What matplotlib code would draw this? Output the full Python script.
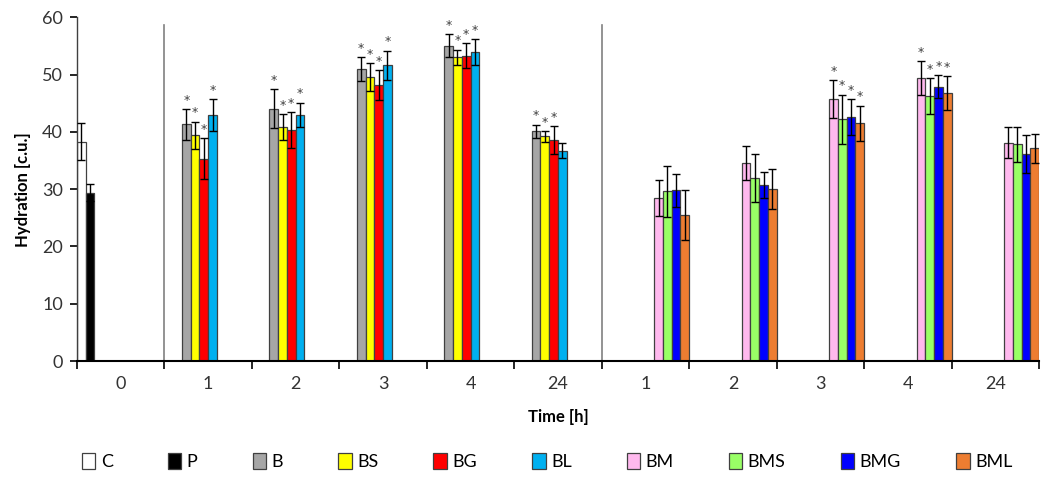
import numpy as np
import matplotlib
matplotlib.use("Agg")
import matplotlib.pyplot as plt
from matplotlib.patches import Patch

plt.rcParams["font.family"] = ["Lato", "DejaVu Sans"]

# categories on x axis
categories = ["0", "1", "2", "3", "4", "24", "1", "2", "3", "4", "24"]
series = ["C", "P", "B", "BS", "BG", "BL", "BM", "BMS", "BMG", "BML"]
colors = ["#FFFFFF", "#000000", "#A6A6A6", "#FFFF00", "#FF0000", "#00B0F0",
          "#FFB9EE", "#99FF66", "#0000FF", "#ED7D31"]

# mean values (None = no bar)
C = [38.3, None, None, None, None, None, None, None, None, None, None]
P = [29.4, None, None, None, None, None, None, None, None, None, None]
B = [None, 41.3, 44.0, 50.9, 55.0, 40.1, None, None, None, None, None]
BS = [None, 39.4, 40.8, 49.6, 53.0, 39.2, None, None, None, None, None]
BG = [None, 35.3, 40.3, 48.2, 53.3, 38.6, None, None, None, None, None]
BL = [None, 42.9, 43.0, 51.6, 53.9, 36.7, None, None, None, None, None]
BM = [None, None, None, None, None, None, 28.5, 34.6, 45.7, 49.4, 38.1]
BMS = [None, None, None, None, None, None, 29.6, 32.0, 42.2, 46.3, 37.8]
BMG = [None, None, None, None, None, None, 29.8, 30.7, 42.6, 47.9, 36.1]
BML = [None, None, None, None, None, None, 25.5, 30.1, 41.5, 46.8, 37.1]

# standard deviations
C_sd = [3.2, None, None, None, None, None, None, None, None, None, None]
P_sd = [1.5, None, None, None, None, None, None, None, None, None, None]
B_sd = [None, 2.7, 3.4, 2.1, 2.0, 1.15, None, None, None, None, None]
BS_sd = [None, 2.4, 2.3, 2.4, 1.35, 0.9, None, None, None, None, None]
BG_sd = [None, 3.6, 3.2, 2.6, 2.2, 2.4, None, None, None, None, None]
BL_sd = [None, 2.8, 2.1, 2.6, 2.3, 1.3, None, None, None, None, None]
BM_sd = [None, None, None, None, None, None, 3.1, 3.0, 3.3, 3.0, 2.7]
BMS_sd = [None, None, None, None, None, None, 4.5, 4.2, 4.3, 3.1, 3.0]
BMG_sd = [None, None, None, None, None, None, 2.9, 2.3, 3.1, 2.0, 3.3]
BML_sd = [None, None, None, None, None, None, 4.3, 3.5, 3.1, 2.9, 2.6]

# significance marks
B_sig = [0, 1, 1, 1, 1, 1, 0, 0, 0, 0, 0]
BS_sig = [0, 1, 1, 1, 1, 1, 0, 0, 0, 0, 0]
BG_sig = [0, 1, 1, 1, 1, 1, 0, 0, 0, 0, 0]
BL_sig = [0, 1, 1, 1, 1, 0, 0, 0, 0, 0, 0]
BM_sig = [0, 0, 0, 0, 0, 0, 0, 0, 1, 1, 0]
BMS_sig = [0, 0, 0, 0, 0, 0, 0, 0, 1, 1, 0]
BMG_sig = [0, 0, 0, 0, 0, 0, 0, 0, 1, 1, 0]
BML_sig = [0, 0, 0, 0, 0, 0, 0, 0, 1, 1, 0]
zeros = [0] * 11

values = [C, P, B, BS, BG, BL, BM, BMS, BMG, BML]
errors = [C_sd, P_sd, B_sd, BS_sd, BG_sd, BL_sd, BM_sd, BMS_sd, BMG_sd, BML_sd]
sigs = [zeros, zeros, B_sig, BS_sig, BG_sig, BL_sig, BM_sig, BMS_sig, BMG_sig, BML_sig]

fig = plt.figure(figsize=(10.46, 4.86), dpi=100)
ax = fig.add_axes([0.0736, 0.2572, 0.9197, 0.7072])

n = len(series)
w = 1.0 / n
x = np.arange(len(categories))
for i in range(n):
    idx = [k for k in range(len(categories)) if values[i][k] is not None]
    xs = x[idx] - 0.5 + (i + 0.5) * w
    ys = [values[i][k] for k in idx]
    es = [errors[i][k] for k in idx]
    ax.bar(xs, ys, width=w, color=colors[i], edgecolor="#404040", linewidth=0.9,
           zorder=2)
    ax.errorbar(xs, ys, yerr=es, fmt="none", ecolor="black", elinewidth=1,
                capsize=3, capthick=1, zorder=3)
    for xx, yy, ee, k in zip(xs, ys, es, idx):
        if sigs[i][k]:
            ax.text(xx, yy + ee + 0.4, "*", ha="center", va="bottom",
                    fontsize=9, color="#404040", family="DejaVu Sans")

# separator lines between groups
for sx in [0.5, 5.5]:
    ax.plot([sx, sx], [0, 58.6], color="#808080", linewidth=1.2, zorder=1)

ax.set_xlim(-0.5, len(categories) - 0.5)
ax.set_ylim(0, 60)
ax.set_yticks(range(0, 61, 10))
ax.set_xticks(np.arange(-0.5, len(categories), 1.0))
ax.set_xticklabels([])
ax.set_xticks(x, minor=True)
ax.set_xticklabels(categories, minor=True)
ax.tick_params(axis="x", which="major", direction="out", length=6, width=1.2)
ax.tick_params(axis="x", which="minor", length=0, pad=11, labelsize=13,
               colors="#333333")
ax.tick_params(axis="y", direction="out", length=5, width=1.2, labelsize=13,
               colors="#333333", pad=5)
ax.tick_params(axis="both", color="black")
for s in ["top", "right"]:
    ax.spines[s].set_visible(False)
ax.spines["left"].set_color("#404040")
ax.spines["bottom"].set_linewidth(1.5)
ax.spines["left"].set_linewidth(1.0)

ax.set_ylabel("Hydration [c.u.]", fontsize=12, fontweight="bold", labelpad=8)
ax.set_xlabel("Time [h]", fontsize=12, fontweight="bold", labelpad=12)

handles = [Patch(facecolor=colors[i], edgecolor="#404040", linewidth=0.9)
           for i in range(n)]
fig.legend(handles, series, loc="center", bbox_to_anchor=(0.523, 0.05), ncol=n,
           frameon=False, fontsize=13, handlelength=0.75, handleheight=1.0,
           handletextpad=0.3, columnspacing=3.05)

fig.savefig("out.png", dpi=100)
